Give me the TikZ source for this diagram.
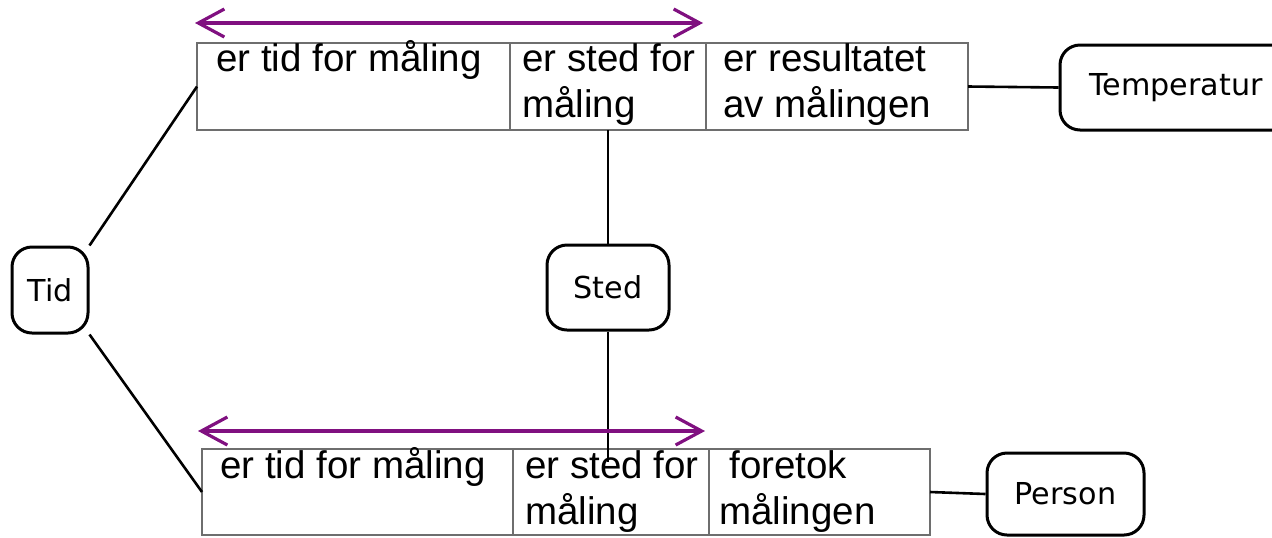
\documentclass[tikz,border=0pt]{standalone}
\usepackage{fontspec}
\setmainfont{Liberation Sans}
\newfontfamily\boxfont{DejaVu Sans}
\usetikzlibrary{arrows.meta}
\definecolor{arrowpurple}{RGB}{128,16,128}
\definecolor{cellgray}{RGB}{110,110,110}
\begin{document}
\begin{tikzpicture}[x=0.5pt,y=-0.5pt,
  cell/.style={draw=cellgray, line width=0.8pt, anchor=north west, inner sep=0pt, outer sep=0pt},
  celltext/.style={inner sep=0pt, anchor=base west, align=left, font=\fontsize{19.25}{23}\selectfont},
  rbox/.style={draw=black, line width=1.5pt, rounded corners=10pt, inner sep=0pt, font=\boxfont\fontsize{15.1}{17}\selectfont},
  conn/.style={draw=black, line width=1.3pt},
  span/.style={draw=arrowpurple, line width=1.6pt, {Straight Barb[length=13pt,width=14pt]}-{Straight Barb[length=13pt,width=14pt]}}
]
\useasboundingbox (0,0) rectangle (1272,537);
\clip (0,0) rectangle (1272,537);

% top table
\node[cell, minimum width=156.5pt, minimum height=43.5pt] (t1) at (197,43) {};
\node[cell, minimum width=98pt, minimum height=43.5pt] (t2) at (510,43) {};
\node[cell, minimum width=131pt, minimum height=43.5pt] (t3) at (706,43) {};
\node[celltext] (t1txt) at (216,71) {er tid for måling};
\node[celltext] (t2txt) at (522,117) {er sted for\\måling};
\node[celltext] (t3txt) at (723,117) {er resultatet\\av målingen};

% bottom table
\node[cell, minimum width=155.5pt, minimum height=43pt] (b1) at (202,449) {};
\node[cell, minimum width=98pt, minimum height=43pt] (b2) at (513,449) {};
\node[cell, minimum width=110.5pt, minimum height=43pt] (b3) at (709,449) {};
\node[celltext] (b1txt) at (220,478) {er tid for måling};
\node[celltext] (b2txt) at (525,524) {er sted for\\måling};
\node[celltext] (b3txt) at (719,524) {\hspace{5pt}foretok\\målingen};

% rounded boxes
\node[rbox, minimum width=38pt, minimum height=43pt] (tid) at (50,290) {Tid};
\node[rbox, minimum width=61pt, minimum height=42.5pt] (sted) at (608,287.5) {Sted};
\node[rbox, minimum width=116pt, minimum height=42.5pt] (temp) at (1176,87.5) {Temperatur};
\node[rbox, minimum width=78.5pt, minimum height=41pt] (person) at (1065.5,494) {Person};

% connectors
\coordinate (stedend) at (608,462);
\draw[conn] (tid.north east) -- (t1.west);
\draw[conn] (tid.south east) -- (b1.west);
\draw[conn] (t2.south) -- (sted.north);
\draw[conn] (sted.south) -- (stedend);
\draw[conn] (t3.east) -- (temp.west);
\draw[conn] (b3.east) -- (person.west);

% purple spans
\coordinate (ta) at (195,23);
\coordinate (tb) at (703,23);
\coordinate (ba) at (198,431);
\coordinate (bb) at (705,431);
\draw[span] (ta) -- (tb);
\draw[span] (ba) -- (bb);
\end{tikzpicture}
\end{document}
